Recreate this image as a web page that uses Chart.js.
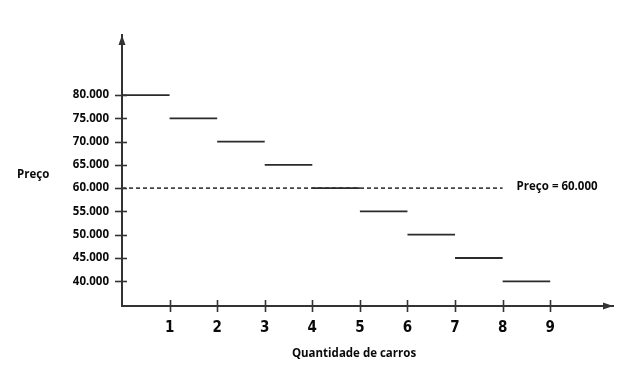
<!DOCTYPE html>
<html>
<head>
<meta charset="utf-8">
<script src="https://cdn.jsdelivr.net/npm/chart.js@4.4.1/dist/chart.umd.min.js"></script>
<style>
html,body{margin:0;padding:0;background:#fff;}
#wrap{width:622px;height:368px;position:relative;}
</style>
</head>
<body>
<div id="wrap"><canvas id="c" width="622" height="368"></canvas></div>
<script>
// Data
const quantities = [1, 2, 3, 4, 5, 6, 7, 8, 9];
const prices = [80000, 75000, 70000, 65000, 60000, 55000, 50000, 45000, 40000];
const yTickValues = [40000, 45000, 50000, 55000, 60000, 65000, 70000, 75000, 80000];
const yTickLabels = ['40.000', '45.000', '50.000', '55.000', '60.000', '65.000', '70.000', '75.000', '80.000'];
const xTickLabels = ['1', '2', '3', '4', '5', '6', '7', '8', '9'];
const marketPrice = 60000;
const marketPriceEnd = 8;
const marketLabel = 'Preço = 60.000';
const yTitle = 'Preço';
const xTitle = 'Quantidade de carros';

const stepData = [];
quantities.forEach((q, i) => {
  stepData.push({x: q - 1, y: prices[i]});
  stepData.push({x: q, y: prices[i]});
  stepData.push({x: q, y: null});
});

const AXIS = '#333';
const TXT = '#0a0a0a';
const boldFont = "'Open Sans', 'DejaVu Sans', sans-serif";

const decor = {
  id: 'decor',
  afterDraw(chart) {
    const ctx = chart.ctx;
    const xs = chart.scales.x, ys = chart.scales.y;
    const ca = chart.chartArea;
    ctx.save();
    ctx.strokeStyle = AXIS;
    ctx.fillStyle = AXIS;
    ctx.lineWidth = 1.6;
    // y tick marks crossing axis
    yTickValues.forEach(v => {
      const py = Math.round(ys.getPixelForValue(v)) + 0.5;
      ctx.beginPath();
      ctx.moveTo(ca.left - 7, py);
      ctx.lineTo(ca.left + 5, py);
      ctx.stroke();
    });
    // x tick marks crossing axis
    quantities.forEach(q => {
      const px = Math.round(xs.getPixelForValue(q)) + 0.5;
      ctx.beginPath();
      ctx.moveTo(px, ca.bottom - 6);
      ctx.lineTo(px, ca.bottom + 6);
      ctx.stroke();
    });
    // arrows
    const ax = ca.left, ay = ca.top;
    ctx.beginPath();
    ctx.moveTo(ax, ay);
    ctx.lineTo(ax - 3.5, ay + 10);
    ctx.lineTo(ax + 3.5, ay + 10);
    ctx.closePath();
    ctx.fill();
    const bx = ca.right, by = ca.bottom;
    ctx.beginPath();
    ctx.moveTo(bx, by);
    ctx.lineTo(bx - 10, by - 3.5);
    ctx.lineTo(bx - 10, by + 3.5);
    ctx.closePath();
    ctx.fill();
    // texts
    ctx.fillStyle = TXT;
    ctx.font = "bold 11.5px " + boldFont;
    ctx.textBaseline = 'middle';
    ctx.textAlign = 'left';
    ctx.fillText(yTitle, 17, 175);
    ctx.fillText(marketLabel, xs.getPixelForValue(marketPriceEnd) + 14, ys.getPixelForValue(marketPrice) - 1);
    ctx.textAlign = 'center';
    ctx.fillText(xTitle, 354, 354);
    ctx.restore();
  }
};

new Chart(document.getElementById('c'), {
  type: 'line',
  data: {
    datasets: [
      {
        data: [{x: 0, y: marketPrice}, {x: marketPriceEnd, y: marketPrice}],
        borderColor: '#444',
        borderWidth: 1.6,
        borderDash: [4, 3],
        pointRadius: 0,
        fill: false,
        order: 2
      },
      {
        data: stepData,
        borderColor: '#2b2b2b',
        borderWidth: 1.8,
        pointRadius: 0,
        spanGaps: false,
        fill: false,
        order: 1
      }
    ]
  },
  options: {
    responsive: false,
    animation: false,
    events: [],
    layout: {padding: {top: 35, right: 9, left: 0, bottom: 0}},
    plugins: {legend: {display: false}, tooltip: {enabled: false}},
    scales: {
      x: {
        type: 'linear',
        min: 0,
        max: 10.32,
        grid: {display: false, drawTicks: false},
        border: {display: true, color: AXIS, width: 2},
        afterBuildTicks: s => { s.ticks = quantities.map(v => ({value: v})); },
        afterFit: s => { s.height = 62; },
        ticks: {
          padding: 13,
          color: TXT,
          font: {family: "'Liberation Sans Narrow', 'DejaVu Sans Condensed', sans-serif", size: 15, weight: 'bold'},
          callback: (v) => xTickLabels[quantities.indexOf(v)] ?? ''
        }
      },
      y: {
        type: 'linear',
        min: 34690,
        max: 92900,
        grid: {display: false, drawTicks: false},
        border: {display: true, color: AXIS, width: 2},
        afterBuildTicks: s => { s.ticks = yTickValues.map(v => ({value: v})); },
        afterFit: s => { s.width = 122; },
        ticks: {
          padding: 13,
          color: TXT,
          font: {family: boldFont, size: 11.5, weight: 'bold'},
          callback: (v) => yTickLabels[yTickValues.indexOf(v)] ?? ''
        }
      }
    }
  },
  plugins: [decor]
});
</script>
</body>
</html>
